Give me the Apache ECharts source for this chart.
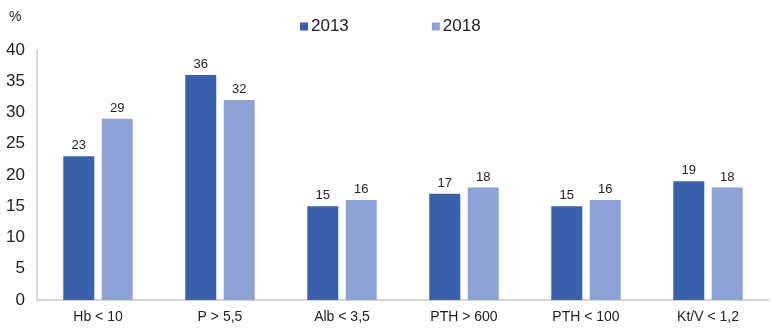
<!DOCTYPE html>
<html>
<head>
<meta charset="utf-8">
<script src="https://cdn.jsdelivr.net/npm/echarts@6/dist/echarts.min.js"></script>
<style>
  html, body { margin: 0; padding: 0; background: #fff; }
  #chart { width: 771px; height: 333px; }
</style>
</head>
<body>
<div id="chart"></div>
<script>
const categories = ['Hb < 10', 'P > 5,5', 'Alb < 3,5', 'PTH > 600', 'PTH < 100', 'Kt/V < 1,2']
const values2013 = [23, 36, 15, 17, 15, 19]
const values2018 = [29, 32, 16, 18, 16, 18]

const font = 'Arial, "Liberation Sans", sans-serif'

const labelStyle = {
    show: true,
    position: 'top',
    distance: 4,
    color: '#222',
    fontSize: 13,
    fontFamily: font
}

const chart = echarts.init(document.getElementById('chart'))
chart.setOption({
    animation: false,
    grid: {
        top: 50,
        left: 37,
        right: 2,
        bottom: 33,
        containLabel: false
    },
    legend: {
        top: 13,
        left: 295,
        itemWidth: 8,
        itemHeight: 8,
        itemGap: 83,
        icon: 'rect',
        data: ['2013', '2018'],
        textStyle: {
            color: '#222',
            fontSize: 17,
            fontFamily: font,
            padding: [0, 0, 0, -2]
        }
    },
    xAxis: {
        type: 'category',
        data: categories,
        axisLine: { show: true, lineStyle: { color: '#c8c8c8', width: 1.5 } },
        axisTick: { show: false },
        axisLabel: { color: '#222', fontSize: 14, fontFamily: font, margin: 10 }
    },
    yAxis: {
        type: 'value',
        min: 0,
        max: 40,
        interval: 5,
        name: '%',
        nameLocation: 'end',
        nameGap: 26,
        nameTextStyle: { color: '#222', fontSize: 14, fontFamily: font, align: 'left', padding: [0, 0, 0, -28] },
        axisLine: { show: true, lineStyle: { color: '#c8c8c8', width: 1.5 } },
        axisTick: { show: false },
        splitLine: { show: false },
        axisLabel: { color: '#222', fontSize: 17, fontFamily: font, margin: 12 }
    },
    series: [
        {
            name: '2013',
            type: 'bar',
            data: values2013,
            barWidth: 31,
            barGap: '24%',
            itemStyle: { color: '#3a5fab' },
            label: labelStyle
        },
        {
            name: '2018',
            type: 'bar',
            data: values2018,
            barWidth: 31,
            barGap: '24%',
            itemStyle: { color: '#8ea2d5' },
            label: labelStyle
        }
    ]
})
</script>
</body>
</html>
